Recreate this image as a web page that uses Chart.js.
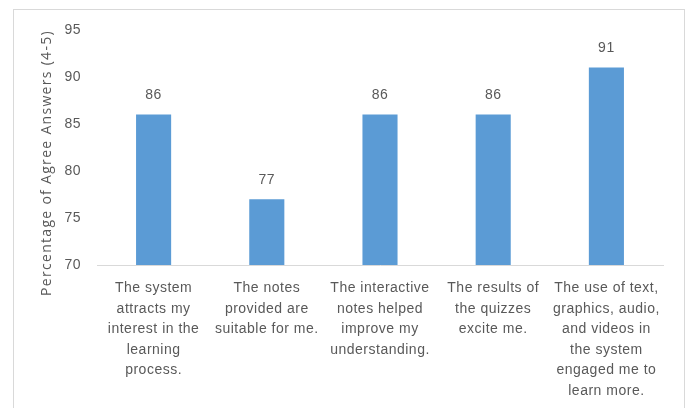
<!DOCTYPE html>
<html>
<head>
<meta charset="utf-8">
<script src="https://cdn.jsdelivr.net/npm/chart.js@4"></script>
<style>
  html, body { margin: 0; padding: 0; background: #fff; }
  #wrap { position: relative; width: 690px; height: 408px; }
  #frame { position: absolute; left: 13px; top: 9px; width: 670px; height: 420px;
           border: 1px solid #d9d9d9; pointer-events: none; }
</style>
</head>
<body>
<div id="wrap">
  <canvas id="myChart" width="690" height="408"></canvas>
  <div id="frame"></div>
</div>
<script>
var categories = [
    ["The system", "attracts my", "interest in the", "learning", "process."],
    ["The notes", "provided are", "suitable for me."],
    ["The interactive", "notes helped", "improve my", "understanding."],
    ["The results of", "the quizzes", "excite me."],
    ["The use of text,", "graphics, audio,", "and videos in", "the system", "engaged me to", "learn more."]
];
var agreeValues = [86, 77, 86, 86, 91];
var yTicks = [70, 75, 80, 85, 90, 95];
var yTitle = "Percentage of Agree Answers (4-5)";

var textColor = "#595959";
var fontName = "'Liberation Sans', Arial, sans-serif";

// a little extra spacing between letters, like the original rendering
var spacing = {
    id: "spacing",
    beforeDraw: function (chart) {
        chart.ctx.letterSpacing = "0.5px";
    }
};

// value labels above the bars
var barLabels = {
    id: "barLabels",
    afterDatasetsDraw: function (chart) {
        var ctx = chart.ctx;
        var meta = chart.getDatasetMeta(0);
        ctx.save();
        ctx.fillStyle = textColor;
        ctx.font = "14px " + fontName;
        ctx.textAlign = "center";
        ctx.textBaseline = "middle";
        meta.data.forEach(function (bar, i) {
            ctx.fillText(String(agreeValues[i]), bar.x, bar.y - 19);
        });
        ctx.restore();
    }
};

// rotated y axis title
var sideTitle = {
    id: "sideTitle",
    afterDraw: function (chart) {
        var ctx = chart.ctx;
        ctx.save();
        ctx.translate(47, 163);
        ctx.rotate(-Math.PI / 2);
        ctx.fillStyle = textColor;
        ctx.font = "14px 'Open Sans', sans-serif";
        ctx.letterSpacing = "1.3px";
        ctx.textAlign = "center";
        ctx.textBaseline = "middle";
        ctx.fillText(yTitle, 0, 0);
        ctx.restore();
    }
};

new Chart("myChart", {
    type: "bar",
    data: {
        labels: categories,
        datasets: [{
            data: agreeValues,
            backgroundColor: "#5b9bd5",
            barPercentage: 0.31,
            categoryPercentage: 1
        }]
    },
    options: {
        responsive: false,
        animation: false,
        layout: { padding: { top: 30, right: 27, bottom: 0, left: 0 } },
        plugins: {
            legend: { display: false },
            tooltip: { enabled: false }
        },
        scales: {
            x: {
                grid: { display: false, drawTicks: false },
                border: { display: true, color: "#d9d9d9", width: 1 },
                ticks: {
                    color: textColor,
                    font: { family: fontName, size: 14, lineHeight: 1.47 },
                    padding: 13,
                    maxRotation: 0,
                    autoSkip: false
                },
                afterFit: function (scale) { scale.height = 143; }
            },
            y: {
                min: 70,
                max: 95,
                afterBuildTicks: function (scale) {
                    scale.ticks = yTicks.map(function (v) { return { value: v }; });
                },
                grid: { display: false, drawTicks: false },
                border: { display: false },
                ticks: {
                    color: textColor,
                    font: { family: fontName, size: 14 },
                    padding: 16
                },
                afterFit: function (scale) { scale.width = 97; }
            }
        }
    },
    plugins: [spacing, barLabels, sideTitle]
});
</script>
</body>
</html>
